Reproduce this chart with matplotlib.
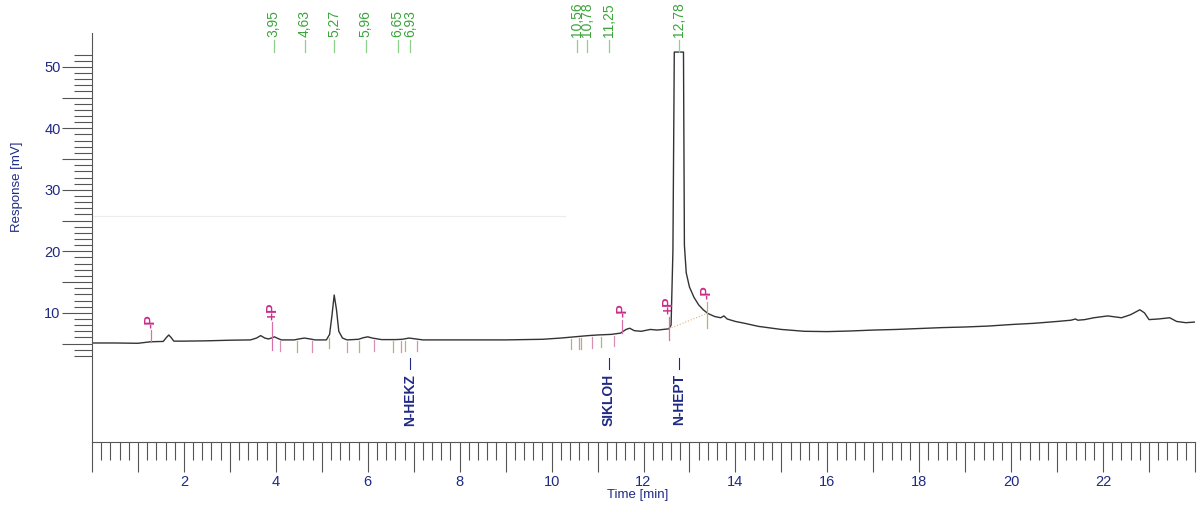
import numpy as np
import matplotlib.pyplot as plt
from matplotlib.ticker import FixedLocator, FuncFormatter

plt.rcParams['font.family'] = ['Liberation Sans', 'DejaVu Sans']

# chromatogram trace (time in min, response in mV)
time = [0.0, 0.5, 1.0, 1.28, 1.55, 1.62, 1.67, 1.72, 1.78, 2.0, 2.5, 3.0, 3.45,
        3.58, 3.67, 3.76, 3.84, 3.92, 3.97, 4.04, 4.12, 4.4, 4.5, 4.62, 4.75,
        4.85, 5.1, 5.17, 5.22, 5.27, 5.32, 5.37, 5.45, 5.55, 5.8, 5.9, 6.0,
        6.1, 6.3, 6.6, 6.75, 6.9, 7.0, 7.2, 8.0, 9.0, 9.8, 10.2, 10.5, 10.8,
        11.0, 11.3, 11.5, 11.62, 11.7, 11.8, 11.95, 12.15, 12.3, 12.55, 12.6,
        12.64, 12.67, 12.87, 12.89, 12.93, 13.0, 13.1, 13.2, 13.3, 13.4, 13.55,
        13.68, 13.75, 13.82, 14.0, 14.2, 14.5, 15.0, 15.5, 16.0, 16.5, 17.0,
        17.5, 18.0, 18.5, 19.0, 19.5, 20.0, 20.5, 21.0, 21.3, 21.4, 21.45,
        21.6, 21.8, 22.1, 22.4, 22.6, 22.8, 22.9, 23.0, 23.2, 23.45, 23.6,
        23.8, 24.0]
signal = [5.1, 5.1, 5.05, 5.3, 5.35, 6.0, 6.4, 6.0, 5.4, 5.4, 5.45, 5.55, 5.6,
          5.9, 6.3, 5.9, 5.75, 5.95, 6.1, 5.85, 5.6, 5.6, 5.75, 5.9, 5.75,
          5.6, 5.6, 6.5, 9.5, 12.9, 10.5, 7.0, 5.9, 5.6, 5.7, 5.95, 6.1,
          5.9, 5.65, 5.65, 5.7, 5.9, 5.8, 5.6, 5.6, 5.6, 5.7, 5.9, 6.1, 6.3,
          6.4, 6.5, 6.7, 7.3, 7.5, 7.1, 7.0, 7.3, 7.2, 7.4, 8.0,
          20.0, 52.4, 52.4, 21.0, 16.5, 14.2, 12.5, 11.3, 10.5, 9.9, 9.4,
          9.2, 9.5, 9.0, 8.6, 8.3, 7.8, 7.3, 7.0, 6.95, 7.05, 7.2,
          7.3, 7.45, 7.6, 7.7, 7.85, 8.1, 8.3, 8.6, 8.8, 9.0, 8.8,
          8.9, 9.2, 9.5, 9.2, 9.7, 10.5, 10.0, 8.9, 9.0, 9.2, 8.6,
          8.4, 8.5]

peak_times = [3.95, 4.63, 5.27, 5.96, 6.65, 6.93, 10.56, 10.78, 11.25, 12.78]

compounds = ['N-HEKZ', 'SIKLOH', 'N-HEPT']
compound_times = [6.93, 11.25, 12.78]

event_times = [1.28, 3.92, 11.54, 12.55, 13.38]
event_labels = ['-P', '+P', '-P', '+P', '-P']
event_top = [7.2, 8.5, 8.9, 9.4, 11.8]
event_bottom = [5.2, 4.0, 6.7, 5.6, 7.6]

mark_times = [4.08, 4.46, 4.78, 5.15, 5.54, 5.80, 6.13, 6.54, 6.72, 6.80, 7.08,
              10.43, 10.59, 10.65, 10.87, 11.07, 11.35]

navy = '#1f2a85'
green = '#3aa53a'
pink = '#c8308a'
axcol = '#555555'

fig = plt.figure(figsize=(12.01, 5.08), dpi=100)
ax = fig.add_axes([92/1201, 1 - 442/508, (1195 - 92)/1201, (442 - 33)/508])
ax.set_xlim(0, 24)
ax.set_ylim(-11, 55.5)

# faint scan line
ax.plot([0, 10.3], [25.7, 25.7], color='#ececec', lw=0.8)

ax.plot(time, signal, color='#333333', lw=1.0)

# baseline under the big peak
ax.plot([12.55, 13.38], [7.4, 9.9], color='#e0b080', lw=0.8, ls=':')

# start/end marks under the trace
for i, t in enumerate(mark_times):
    v = np.interp(t, time, signal)
    c = '#d890b0' if i % 2 == 0 else '#bdb070'
    ax.plot([t, t], [v - 0.3, v - 2.0], color=c, lw=0.9)

for t, lbl, top, bot in zip(event_times, event_labels, event_top, event_bottom):
    c = '#bdb070' if t > 13 else '#d870a8'
    ax.plot([t, t], [bot, top], color=c, lw=0.9)
    ax.text(t, top + 0.4, lbl, rotation=90, ha='center', va='bottom',
            color=pink, fontsize=10, fontweight='bold')

# retention time labels at the top
for t in peak_times:
    ax.plot([t, t], [52.4, 54.4], color='#8fd08f', lw=0.9, clip_on=False)
    ax.text(t, 54.8, f'{t:.2f}'.replace('.', ','), rotation=90, ha='center',
            va='bottom', color=green, fontsize=10, clip_on=False)

for name, t in zip(compounds, compound_times):
    ax.plot([t, t], [2.7, 0.9], color=navy, lw=0.8)
    ax.text(t, 0.1, name, rotation=90, ha='center', va='top', color=navy,
            fontsize=10, fontweight='bold')

ax.spines['top'].set_visible(False)
ax.spines['right'].set_visible(False)
ax.spines['left'].set_color(axcol)
ax.spines['bottom'].set_color(axcol)

ax.yaxis.set_major_locator(FixedLocator(list(range(5, 55, 5))))
ax.yaxis.set_minor_locator(FixedLocator(list(range(3, 53))))
ax.yaxis.set_major_formatter(FuncFormatter(lambda v, p: '' if v % 10 else f'{v:.0f}'))
ax.xaxis.set_major_locator(FixedLocator(list(range(0, 25))))
ax.xaxis.set_minor_locator(FixedLocator(list(np.arange(0, 24.01, 0.2))))
ax.xaxis.set_major_formatter(FuncFormatter(
    lambda v, p: f'{v:.0f}' if (v % 2 == 0 and 0 < v < 24) else ''))

ax.tick_params(axis='y', which='major', length=21.6, width=0.8, color=axcol,
               labelcolor=navy, labelsize=10.5, pad=1)
ax.tick_params(axis='y', which='minor', length=13, width=0.8, color=axcol)
ax.tick_params(axis='x', which='major', length=21.6, width=0.8, color=axcol,
               labelcolor=navy, labelsize=10.5, pad=2)
ax.tick_params(axis='x', which='minor', length=13, width=0.8, color=axcol)

fig.text(17/1201, 1 - 187/508, 'Response [mV]', rotation=90, ha='center',
         va='center', color=navy, fontsize=9.5)
fig.text(638/1201, 1 - 495/508, 'Time [min]', ha='center', va='center',
         color=navy, fontsize=9.5)

fig.savefig('out.png', dpi=100)
